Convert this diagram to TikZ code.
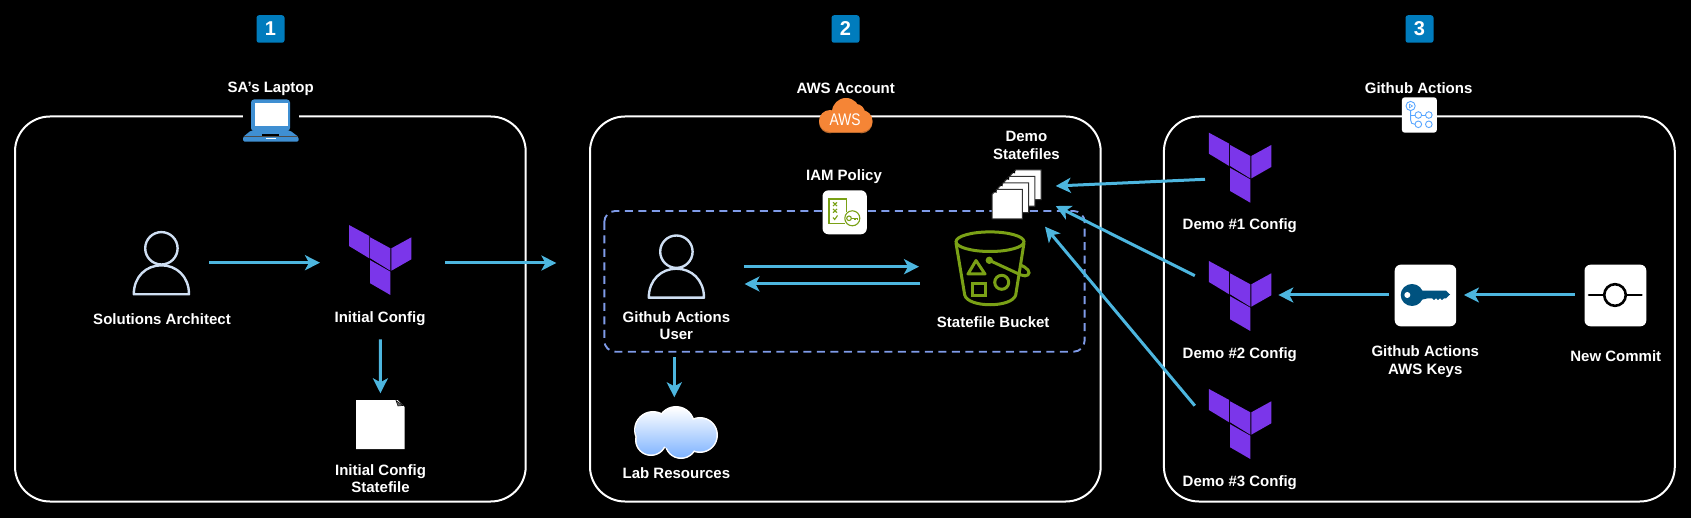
\documentclass[tikz,border=0pt]{standalone}
\usepackage{fontspec}
\setmainfont{Liberation Sans}
\usetikzlibrary{arrows.meta}
\definecolor{flowblue}{HTML}{4DB6DF}
\definecolor{tfpurple}{HTML}{7B36EA}
\definecolor{dashblue}{HTML}{7F9BE8}
\definecolor{badgeblue}{HTML}{007CBD}
\definecolor{awsgreen}{HTML}{7AA116}
\definecolor{personline}{HTML}{CFDFF3}
\definecolor{keyblue}{HTML}{00527F}
\definecolor{awsorange}{HTML}{F58536}
\definecolor{awsshadow}{HTML}{B8682C}
\definecolor{laptopblue}{HTML}{3F8FD2}
\definecolor{ghblue}{HTML}{58A6FF}
\definecolor{cloudblue}{HTML}{7EB3FF}
\tikzset{
  x=1pt,y=-1pt,
  flow/.style={draw=flowblue,line width=3pt,-{Stealth[length=15pt,width=15pt,inset=4pt]}},
  region/.style={draw=white,line width=2pt,rounded corners=35pt},
  lbl/.style={text=white,align=center,inner sep=0pt,yshift=-0.8pt,font=\fontsize{15}{17.8}\selectfont\bfseries},
  badge/.style={fill=badgeblue,rounded corners=2.5pt,minimum width=28pt,minimum height=27.5pt,inner sep=0pt,text=white,font=\fontsize{20}{20}\selectfont\bfseries},
  iconbox/.style={inner sep=0pt,outer sep=0pt,draw=none},
  tile/.style={fill=white,rounded corners=6pt},
  tfmark/.pic={
    \fill[tfpurple] (0,0)--(20.3,11)--(20.3,33.3)--(0,21)--cycle;
    \fill[tfpurple] (21.2,12.3)--(41.4,23.3)--(41.4,45.7)--(21.2,33.3)--cycle;
    \fill[tfpurple] (42.4,23.3)--(62.4,12.3)--(62.4,34.3)--(42.4,45.7)--cycle;
    \fill[tfpurple] (21.2,35.2)--(41.4,46.7)--(41.4,70)--(21.2,58.3)--cycle;
  },
  person/.pic={
    \draw[personline,line width=2.4pt] (0,0) circle[radius=16.2];
    \draw[personline,line width=2.4pt,line join=round] (-27.6,46) .. controls (-27.6,28) and (-15,17) .. (0,17) .. controls (15,17) and (27.6,28) .. (27.6,46) -- cycle;
  },
  stackfile/.pic={
    \fill[white,draw=black!80,line width=1pt] (5,0)--(30.3,0)--(30.3,29.7)--(0,29.7)--(0,5)--cycle;
    \fill[black] (1.5,2.5)--(4.5,0.5)--(4.5,3.5)--cycle;
  }
}
\begin{document}
\begin{tikzpicture}
\useasboundingbox (0,0) rectangle (1691,518);
\fill[black] (0,0) rectangle (1691,518);

% regions
\draw[region] (15,116.5) rectangle (525.7,501.5);
\draw[region] (590,116.5) rectangle (1100.7,501.5);
\draw[region] (1163.9,116.5) rectangle (1674.8,501.5);
\draw[dashblue,line width=1.9pt,dash pattern=on 8pt off 5.5pt,rounded corners=11pt] (604.3,211) rectangle (1084.6,351.7);

% badges
\node[badge] (b1) at (270.5,29) {1};
\node[badge] (b2) at (845.5,29) {2};
\node[badge] (b3) at (1419.5,29) {3};

% titles
\node[lbl] (t1) at (270.7,88) {SA's Laptop};
\node[lbl] (t2) at (845.7,88) {AWS Account};
\node[lbl] (t3) at (1418.6,87) {Github Actions};

% laptop
\fill[black] (243,99) rectangle (299,142);
\fill[laptopblue,rounded corners=3pt] (251,99.5) rectangle (290,131);
\fill[white] (254.6,102.7) rectangle (287.5,126);
\fill[laptopblue,rounded corners=1.5pt] (251,130.5)--(290,130.5)--(298.6,137)--(298.6,141.7)--(243,141.7)--(243,137)--cycle;
\draw[black!70,line width=.7pt] (243.5,136.6)--(298,136.6);
\fill[black] (262,134) rectangle (279,136);
\fill[white] (266,138.2) rectangle (276,139.3);

% AWS cloud
\begin{scope}[shift={(0,1.3)}]
\fill[awsshadow] (830,121) circle[radius=11];
\fill[awsshadow] (861.5,121) circle[radius=11];
\fill[awsshadow] (830,120) rectangle (861.5,132);
\end{scope}
\fill[awsorange] (830,121) circle[radius=11];
\fill[awsorange] (861.5,121) circle[radius=11];
\fill[awsorange] (846,112) circle[radius=14];
\fill[awsorange] (856,113) circle[radius=9];
\fill[awsorange] (830,120) rectangle (861.5,132);
\node[text=white,inner sep=0pt,font=\fontsize{16.8}{17}\selectfont] (awslogo) at (845,120) {\scalebox{0.82}[1]{AWS}};

% github actions icon
\fill[tile,rounded corners=3pt] (1401.8,97.3) rectangle (1436.9,132.7);
\begin{scope}[ghblue,line width=.9pt]
\draw (1410.6,106) circle[radius=4.6];
\fill (1409,103.6)--(1413.2,106)--(1409,108.4)--cycle;
\fill[white] (1409.9,105)--(1411.6,106)--(1409.9,107)--cycle;
\draw (1418.3,115) circle[radius=3.3];
\draw (1428.8,115) circle[radius=3.3];
\draw (1418.3,124.3) circle[radius=3.3];
\draw (1428.8,124.3) circle[radius=3.3];
\draw (1410.6,110.6) -- (1410.6,120) .. controls (1410.6,123) and (1412,124.3) .. (1415,124.3);
\draw (1410.6,115) -- (1415,115);
\draw (1421.6,115) -- (1425.5,115);
\end{scope}

% person 1, terraform, file
\pic at (161.4,248.3) {person};
\node[iconbox,minimum width=57pt,minimum height=63.4pt] (sa) at (161.5,263.3) {};
\pic at (349,225) {tfmark};
\node[iconbox,minimum width=62.4pt,minimum height=70pt] (tfi) at (380.2,260) {};
\node[lbl] (saL) at (162,318.7) {Solutions Architect};
\node[lbl] (tfiL) at (380,318) {Initial Config};
\fill[white] (356,400)--(397.5,400)--(404.6,407)--(404.6,449)--(356,449)--cycle;
\fill[black!60,draw=black,line width=.5pt] (396,400.5)--(403,405.5)--(398,406)--cycle;
\node[iconbox,minimum width=48.6pt,minimum height=49pt] (sf) at (380.3,424.5) {};
\node[lbl] (sfL) at (380.5,477.8) {Initial Config\\Statefile};

% person 2 and lab cloud
\pic at (676.4,251.7) {person};
\node[iconbox,minimum width=57pt,minimum height=63.4pt] (gu) at (676.8,267) {};
\node[lbl] (guL) at (676.4,324.8) {Github Actions\\User};
\draw[white,line width=3pt] (676,425) circle[radius=17.5] (653,430) circle[radius=17.5] (700,435) circle[radius=16.5] (681,442.5) circle[radius=15] (651,440) circle[radius=14.5];
\shade[top color=white,bottom color=cloudblue] (676,425) circle[radius=17.5] (653,430) circle[radius=17.5] (700,435) circle[radius=16.5] (681,442.5) circle[radius=15] (651,440) circle[radius=14.5] (672,435) circle[radius=14];
\node[iconbox,minimum width=81.6pt,minimum height=51pt] (lab) at (676.2,432.8) {};
\node[lbl] (labL) at (676.4,472.7) {Lab Resources};

% IAM
\node[lbl] (iamL) at (844,176) {IAM Policy};
\fill[tile] (822.5,190.3) rectangle (866.8,234.3);
\begin{scope}[awsgreen,line width=1.1pt]
\draw (846.7,212) -- (846.7,199) -- (829,199) -- (829,223.3) -- (845,223.3);
\draw (833,202.3)--(837,206) (837,202.3)--(833,206);
\draw (833,209)--(837,212.7) (837,209)--(833,212.7);
\draw (833,217.5)--(834.7,219.5)--(837.5,215.5);
\draw[fill=white] (852.3,218.3) circle[radius=7.5];
\draw (849,218.3) circle[radius=2.3];
\draw (851.3,218.3) -- (857.5,218.3) -- (857.5,220) (855,218.3) -- (855,220);
\end{scope}
\node[iconbox,minimum width=44.3pt,minimum height=44pt] (iam) at (844.6,212.3) {};

% stack of files
\node[lbl] (dsL) at (1026.4,145) {Demo\\Statefiles};
\pic at (1010.7,170) {stackfile};
\pic at (1004.5,176.4) {stackfile};
\pic at (998.2,182.9) {stackfile};
\pic at (992,189.3) {stackfile};
\node[iconbox,minimum width=49pt,minimum height=49pt] (ds) at (1016.5,194.5) {};

% bucket
\begin{scope}[awsgreen,line width=3pt]
\draw (990,241.7) ellipse[x radius=34,y radius=9.8];
\draw (956,243) -- (964.7,295) .. controls (968,308) and (1012,308) .. (1015.7,295) -- (1024,243);
\draw[line join=round] (976,260.5) -- (968,274) -- (985,274) -- cycle;
\draw (972.8,283.5) rectangle (985.6,296);
\draw (1001.7,282.3) circle[radius=7];
\fill (989.3,260.3) circle[radius=3.7];
\draw (989.3,260.3) -- (1021,275) .. controls (1027,277.5) and (1031,274) .. (1028,270) .. controls (1026,267.5) and (1023,266) .. (1020.5,265);
\end{scope}
\node[iconbox,minimum width=74pt,minimum height=66pt] (bk) at (991,273.5) {};
\node[lbl] (bkL) at (993.2,321.7) {Statefile Bucket};

% demo configs
\pic at (1208.9,132.7) {tfmark};
\node[iconbox,minimum width=62.4pt,minimum height=70pt] (d1) at (1240.1,167.7) {};
\node[lbl] (d1L) at (1239.8,225) {Demo \#1 Config};
\pic at (1208.9,261) {tfmark};
\node[iconbox,minimum width=62.4pt,minimum height=70pt] (d2) at (1240.1,296) {};
\node[lbl] (d2L) at (1239.8,354) {Demo \#2 Config};
\pic at (1208.9,389) {tfmark};
\node[iconbox,minimum width=62.4pt,minimum height=70pt] (d3) at (1240.1,424) {};
\node[lbl] (d3L) at (1239.8,482) {Demo \#3 Config};

% keys tile
\fill[tile] (1394.7,264.7) rectangle (1456.2,326.3);
\fill[keyblue] (1412,295) ellipse[x radius=11.3,y radius=11];
\fill[keyblue] (1418,290.7)--(1446,290.7)--(1450,294.5)--(1446,298.3)--(1444,298.3)--(1442,300)--(1440,298.3)--(1438,300)--(1436,298.3)--(1434,300)--(1432,298.3)--(1428,298.3)--(1418,300.5)--cycle;
\fill[white] (1407.3,295) circle[radius=3];
\node[iconbox,minimum width=61.5pt,minimum height=61.6pt] (keys) at (1425.4,295.5) {};
\node[lbl] (keysL) at (1425.3,361) {Github Actions\\AWS Keys};

% commit tile
\fill[tile] (1584.5,264.7) rectangle (1646.3,326.3);
\draw[black,line width=2.6pt,line cap=round] (1589,295) -- (1603.5,295) (1626.5,295) -- (1641.5,295);
\draw[black,line width=2.6pt] (1615,295) circle[radius=10.8];
\node[iconbox,minimum width=61.8pt,minimum height=61.6pt] (cm) at (1615.4,295.5) {};
\node[lbl] (cmL) at (1615.8,355) {New Commit};

% connectors
\coordinate (awsin) at (556.4,263);
\draw[flow] ([shift={(19,-0.6)}]sa.east) -- ([shift={(-29,2.7)}]tfi.west);
\draw[flow] ([shift={(34,3)}]tfi.east) -- (awsin);
\draw[flow] ([shift={(0.2,44.3)}]tfi.south) -- ([shift={(0.1,-6.7)}]sf.north);
\draw[flow] ([shift={(38.5,-0.3)}]gu.east) -- ([shift={(-35,-6.8)}]bk.west);
\draw[flow] ([shift={(-34,10.5)}]bk.west) -- ([shift={(39.2,17)}]gu.east);
\draw[flow] ([shift={(-2.5,58.6)}]gu.south) -- ([shift={(-1.9,-10)}]lab.north);
\draw[flow] ([shift={(-3.9,11.6)}]d1.west) -- ([shift={(14.7,-8.5)}]ds.east);
\draw[flow] ([shift={(-14.1,-20.3)}]d2.west) -- ([shift={(14.7,11.5)}]ds.east);
\draw[flow] ([shift={(-14.1,-18.3)}]d3.west) -- ([shift={(4,32.2)}]ds.east);
\draw[flow] ([shift={(-9.9,-0.5)}]cm.west) -- ([shift={(7.8,-0.5)}]keys.east);
\draw[flow] ([shift={(-5.9,-0.5)}]keys.west) -- ([shift={(7,-1)}]d2.east);
\end{tikzpicture}
\end{document}
